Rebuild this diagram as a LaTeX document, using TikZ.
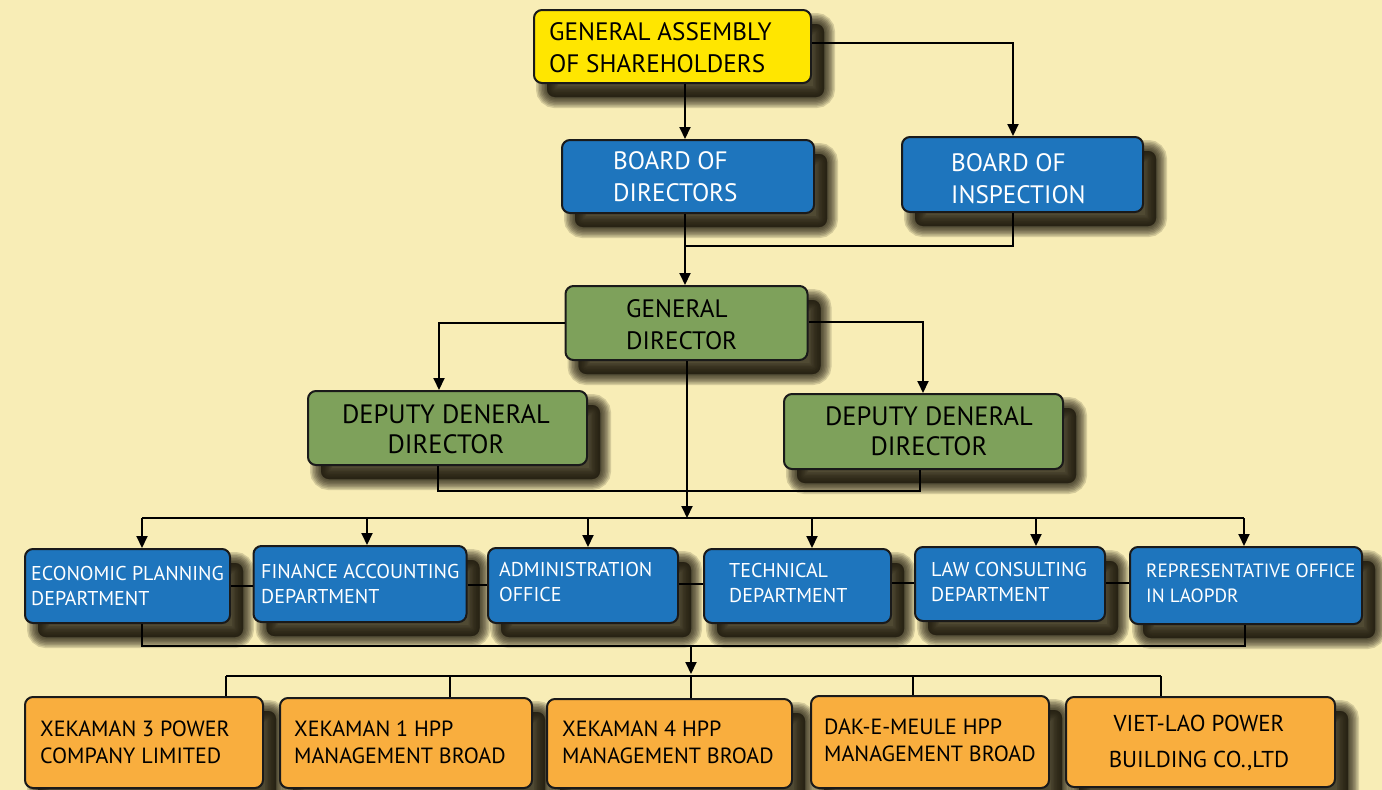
\documentclass[tikz,border=0pt]{standalone}
\usepackage{fontspec}
\setmainfont{PT Sans}
\usetikzlibrary{arrows.meta,calc}
\definecolor{bg}{HTML}{F8EDB6}
\definecolor{cyellow}{HTML}{FFE600}
\definecolor{cblue}{HTML}{1E75BD}
\definecolor{cgreen}{HTML}{7EA15B}
\definecolor{corange}{HTML}{F9AE3E}
\definecolor{edge}{HTML}{1A1A1A}
\definecolor{shad}{HTML}{1C170C}
\begin{document}
\begin{tikzpicture}[x=1pt,y=-1pt,
  shl/.style={preaction={draw=shad,fill=shad,line width=#1,opacity=.16,
      transform canvas={shift={(13pt,-14pt)}}}},
  box/.style={draw=edge,line width=2pt,rounded corners=8pt,inner sep=0pt,
    shl=22pt,shl=19pt,shl=16pt,shl=13pt,shl=10pt,shl=7pt,shl=4pt,shl=1pt},
  yel/.style={box,fill=cyellow},
  blu/.style={box,fill=cblue},
  grn/.style={box,fill=cgreen},
  org/.style={box,fill=corange},
  big/.style={inner sep=0pt,align=left,anchor=north west,font=\fontsize{25.2}{32}\selectfont},
  dep/.style={inner sep=0pt,align=center,anchor=north,font=\fontsize{26.5}{30}\selectfont},
  mid/.style={inner sep=0pt,align=left,anchor=north west,text=white,font=\fontsize{20}{25}\selectfont},
  low/.style={inner sep=0pt,align=left,anchor=north west,font=\fontsize{22}{27}\selectfont},
  con/.style={draw=black,line width=2pt},
  arr/.style={con,-{Triangle[length=12pt,width=11pt]}}
]
\fill[bg] (0,0) rectangle (1382,790);
\useasboundingbox (0,0) rectangle (1382,790);

% ---------- boxes ----------
\node[yel,minimum width=277,minimum height=73] (ga) at (672.5,46.5) {};
\node[blu,minimum width=252,minimum height=73] (bod) at (688,176.5) {};
\node[blu,minimum width=241,minimum height=75] (boi) at (1022.5,174.5) {};
\node[grn,minimum width=242,minimum height=74] (gd) at (686.5,323) {};
\node[grn,minimum width=279,minimum height=74] (dl) at (447.5,428) {};
\node[grn,minimum width=279,minimum height=75] (dr) at (923.5,431.5) {};

\node[blu,minimum width=205,minimum height=74] (e1) at (127.5,586) {};
\node[blu,minimum width=213,minimum height=76] (e2) at (360,584) {};
\node[blu,minimum width=190,minimum height=75] (e3) at (583,585.5) {};
\node[blu,minimum width=187,minimum height=74] (e4) at (797.5,586) {};
\node[blu,minimum width=190,minimum height=74] (e5) at (1010,584) {};
\node[blu,minimum width=232,minimum height=77] (e6) at (1246,585.5) {};

\node[org,minimum width=238,minimum height=91] (o1) at (144,742.5) {};
\node[org,minimum width=252,minimum height=90] (o2) at (406,743) {};
\node[org,minimum width=245,minimum height=89] (o3) at (669.5,743.5) {};
\node[org,minimum width=238,minimum height=92] (o4) at (930,742) {};
\node[org,minimum width=269,minimum height=90] (o5) at (1200.5,742) {};

% ---------- texts ----------
\node[big] (tga) at (549,22) {GENERAL ASSEMBLY\\OF SHAREHOLDERS};
\node[big,text=white] (tbod) at (613,151) {BOARD OF\\DIRECTORS};
\node[big,text=white] (tboi) at (951,153) {BOARD OF\\INSPECTION};
\node[big] (tgd) at (626,299) {GENERAL\\DIRECTOR};
\node[dep] (tdl) at (446,404) {DEPUTY DENERAL\\DIRECTOR};
\node[dep] (tdr) at (929,406) {DEPUTY DENERAL\\DIRECTOR};

\node[mid] (te1) at (31,566) {ECONOMIC PLANNING\\DEPARTMENT};
\node[mid] (te2) at (261,564) {FINANCE ACCOUNTING\\DEPARTMENT};
\node[mid] (te3) at (499,562) {ADMINISTRATION\\OFFICE};
\node[mid] (te4) at (729,563) {TECHNICAL\\DEPARTMENT};
\node[mid] (te5) at (931,562) {LAW CONSULTING\\DEPARTMENT};
\node[mid,font=\fontsize{19.2}{25}\selectfont] (te6) at (1146,564) {REPRESENTATIVE OFFICE\\IN LAOPDR};

\node[low] (to1) at (40,721) {XEKAMAN 3 POWER\\COMPANY LIMITED};
\node[low] (to2) at (294,721) {XEKAMAN 1 HPP\\MANAGEMENT BROAD};
\node[low] (to3) at (562,721) {XEKAMAN 4 HPP\\MANAGEMENT BROAD};
\node[low] (to4) at (824,719) {DAK-E-MEULE HPP\\MANAGEMENT BROAD};
\node[inner sep=0pt,align=center,anchor=north,font=\fontsize{23}{36}\selectfont] (to5) at (1199,715) {VIET-LAO POWER\\BUILDING CO.,LTD};

% ---------- helper coordinates ----------
\coordinate (xa) at (685,0);
\coordinate (xb) at (1013,0);
\coordinate (j1) at (685,246);
\coordinate (xdl) at (439,0);
\coordinate (xdr) at (923,0);
\coordinate (xg) at (687,0);
\coordinate (d1) at (438,491);
\coordinate (d2) at (920,491);
\coordinate (busL) at (142,518);
\coordinate (busR) at (1244,518);
\coordinate (cL) at (142,646);
\coordinate (cR) at (1245,646);
\coordinate (cm) at (691,646);
\coordinate (b2L) at (226,676);
\coordinate (b2R) at (1161,676);

% ---------- connectors ----------
\draw[arr] (ga.south -| xa) -- (bod.north -| xa);
\draw[arr] (ga.east |- 0,43) -| (xb |- boi.north);
\draw[arr] (bod.south -| xa) -- (gd.north -| xa);
\draw[con] (boi.south -| xb) |- (j1);
\draw[arr] (gd.west |- 0,323) -| (xdl |- dl.north);
\draw[arr] (gd.east |- 0,322) -| (xdr |- dr.north);
\draw[arr] (gd.south -| xg) -- (xg |- busL);
\draw[con] (d1 |- dl.south) -- (d1) -- (d2) -- (d2 |- dr.south);

\draw[con] (busL) -- (busR);
\foreach \n/\x in {e1/142,e2/367,e3/588,e4/812,e5/1036,e6/1244}
  \draw[arr] (\x,518) -- (\x,0 |- \n.north);

\draw[con] (e1.east |- 0,586) -- (e2.west |- 0,586);
\draw[con] (e2.east |- 0,585) -- (e3.west |- 0,585);
\draw[con] (e3.east |- 0,584) -- (e4.west |- 0,584);
\draw[con] (e4.east |- 0,583) -- (e5.west |- 0,583);
\draw[con] (e5.east |- 0,583) -- (e6.west |- 0,583);

\draw[con] (cL |- e1.south) -- (cL) -- (cR) -- (cR |- e6.south);
\draw[arr] (cm) -- (691,674);

\draw[con] (b2L) -- (b2R);
\foreach \n/\x in {o1/226,o2/450,o3/691,o4/913,o5/1161}
  \draw[con] (\x,676) -- (\x,0 |- \n.north);
\end{tikzpicture}
\end{document}
